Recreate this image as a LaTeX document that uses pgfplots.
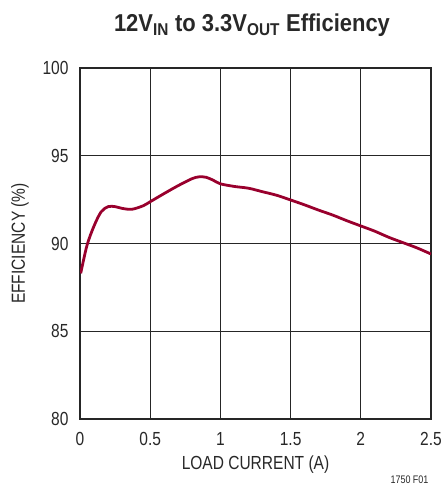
\documentclass[border=0pt]{standalone}
\usepackage{pgfplots}
\pgfplotsset{compat=1.18}
\usepackage{fontspec}
\setmainfont{Liberation Sans}[FakeStretch=0.82]
\newfontfamily\titlefont{Liberation Sans}[FakeStretch=0.9]
\definecolor{curve}{RGB}{153,0,45}
\definecolor{txt}{RGB}{40,40,40}
\begin{document}
\begin{tikzpicture}
\useasboundingbox (-80bp,-66bp) rectangle (363bp,419bp);
\begin{axis}[
  at={(0,0)}, anchor=origin,
  scale only axis,
  width=351bp, height=351bp,
  xmin=0, xmax=2.5, ymin=80, ymax=100,
  xtick={0,0.5,...,2.5},
  ytick={80,85,...,100},
  xticklabels={0,0.5,1,1.5,2,2.5},
  grid=major,
  major grid style={line width=0.8pt, black!85},
  axis line style={line width=1.3pt, black!85},
  tick style={draw=none},
  /pgf/number format/assume math mode=true,
  ticklabel style={font=\fontsize{19}{19}\selectfont, text=txt},
  xticklabel style={anchor=base, yshift=-26bp},
  yticklabel style={anchor=east, xshift=-8bp},
]
\addplot[curve, line width=2.8pt, smooth, tension=0.5] coordinates {
(0.005,88.3) (0.05,89.9) (0.1,91.0) (0.15,91.8) (0.2,92.1) (0.25,92.1)
(0.3,92.0) (0.37,91.95) (0.45,92.15) (0.5,92.38) (0.6,92.85) (0.7,93.3)
(0.8,93.7) (0.85,93.8) (0.9,93.77) (0.95,93.6) (1.0,93.4) (1.1,93.25)
(1.2,93.15) (1.3,92.95) (1.4,92.75) (1.5,92.48) (1.6,92.2) (1.7,91.9)
(1.8,91.62) (1.9,91.3) (2.0,91.0) (2.1,90.7) (2.2,90.35) (2.3,90.05)
(2.4,89.75) (2.5,89.4)
};
\end{axis}
\node[anchor=base, font=\fontsize{24.5}{24.5}\selectfont\titlefont\bfseries, text=txt] at (172bp,387bp)
  {12V\textsubscript{IN} to 3.3V\textsubscript{OUT} Efficiency};
\node[anchor=base, font=\fontsize{19}{19}\selectfont, text=txt] at (175.5bp,-50bp) {LOAD CURRENT (A)};
\node[rotate=90, font=\fontsize{19}{19}\selectfont, text=txt] at (-60bp,175.5bp) {EFFICIENCY (\%)};
\node[anchor=base east, font=\fontsize{11}{11}\selectfont, text=txt] at (352bp,-64bp) {1750 F01};
\end{tikzpicture}
\end{document}
